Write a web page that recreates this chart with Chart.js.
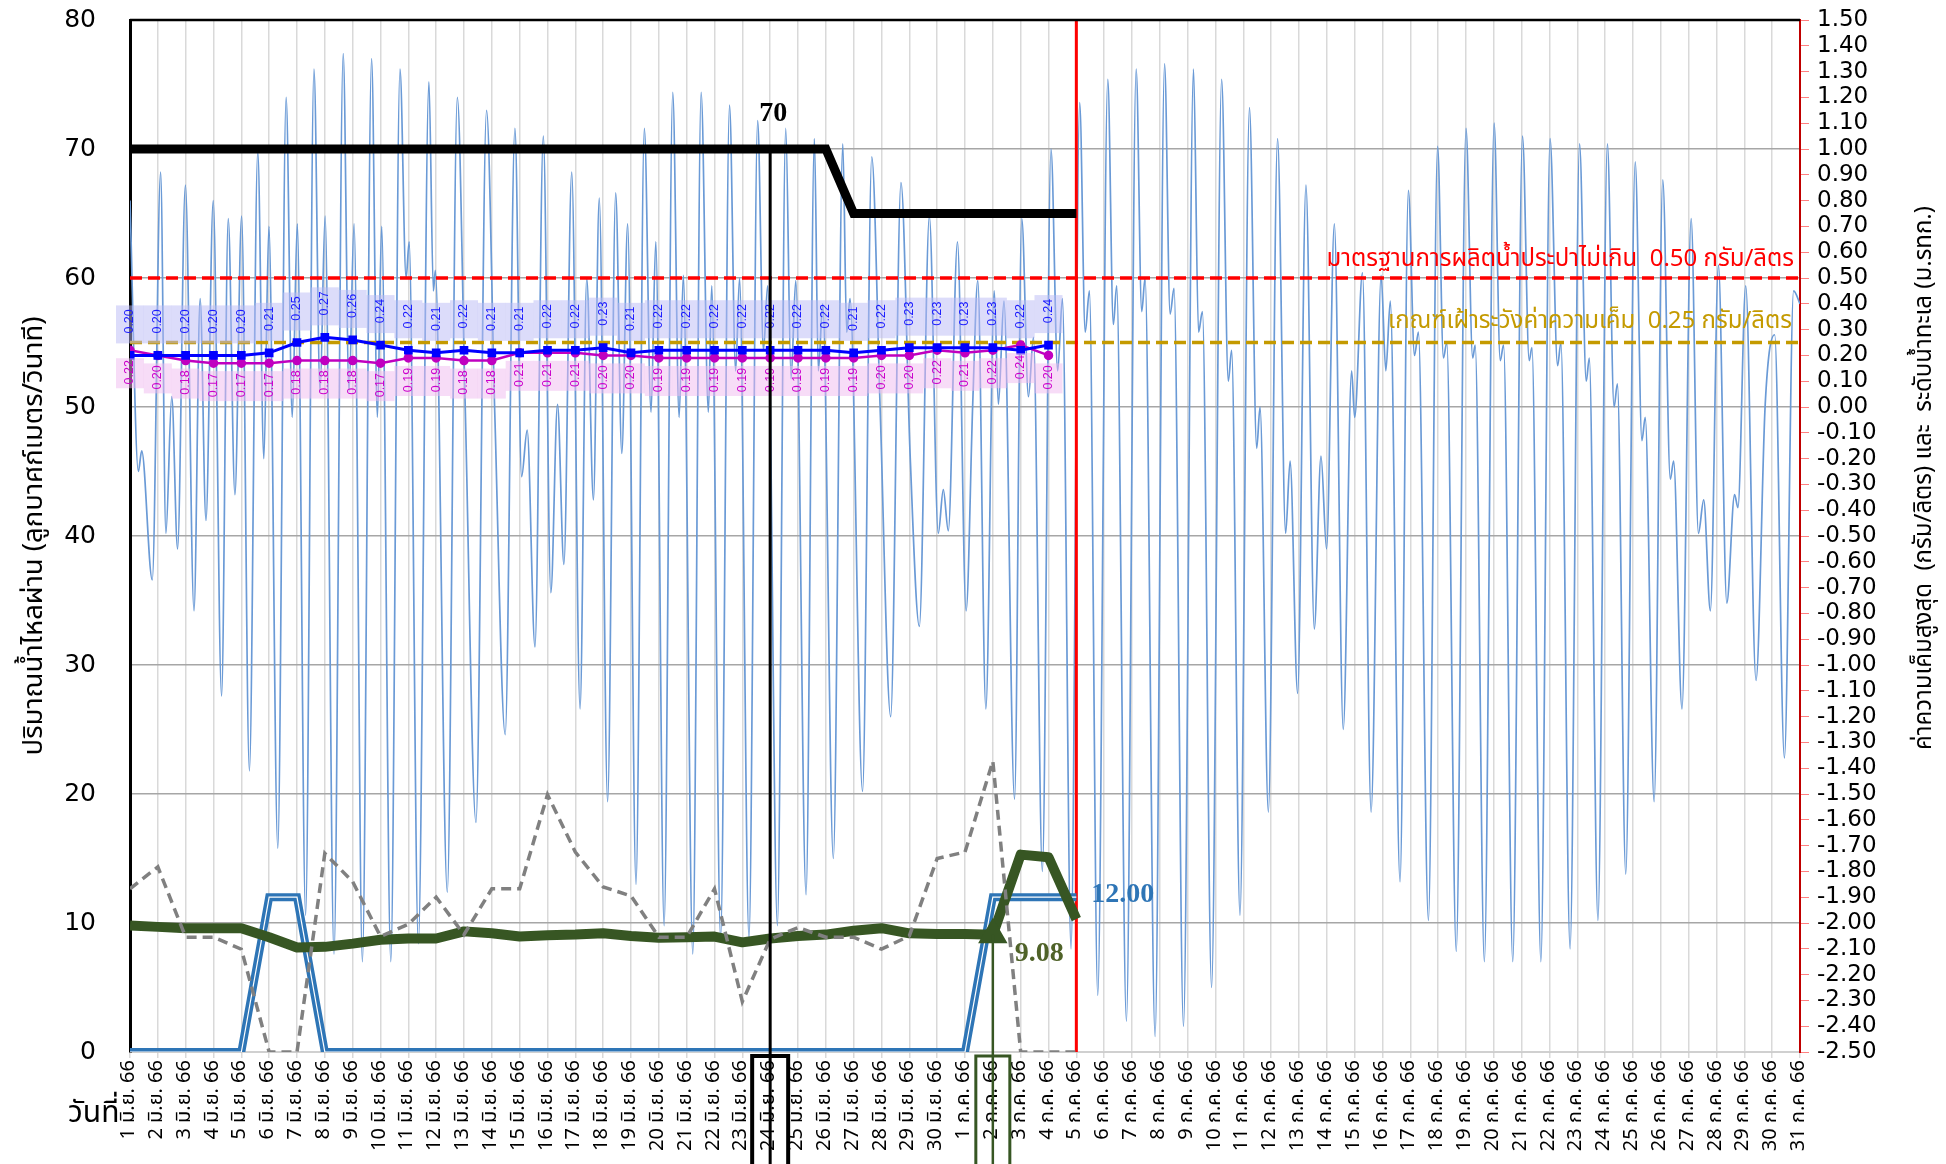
<!DOCTYPE html>
<html>
<head>
<meta charset="utf-8">
<script src="https://cdn.jsdelivr.net/npm/chart.js@4.4.0/dist/chart.umd.min.js"></script>
<style>
  html, body { margin: 0; padding: 0; background: #fff; }
  #wrap { width: 1946px; height: 1164px; }
</style>
</head>
<body>
<div id="wrap"><canvas id="chart" width="1946" height="1164"></canvas></div>
<script>
// วันที่ 1 มิ.ย. 66 - 31 ก.ค. 66
const monthNames = ['มิ.ย.', 'ก.ค.'];
const monthLengths = [30, 31];
const dayLabels = [];
monthLengths.forEach((len, m) => {
    for (let d = 1; d <= len; d++) dayLabels.push(d + ' ' + monthNames[m] + ' 66');
});

// ค่าความเค็มสูงสุด / ต่ำสุด (กรัม/ลิตร) 1 มิ.ย. - 4 ก.ค.
const salinityMax = [0.20, 0.20, 0.20, 0.20, 0.20, 0.21, 0.25, 0.27, 0.26, 0.24,
    0.22, 0.21, 0.22, 0.21, 0.21, 0.22, 0.22, 0.23, 0.21, 0.22,
    0.22, 0.22, 0.22, 0.22, 0.22, 0.22, 0.21, 0.22, 0.23, 0.23,
    0.23, 0.23, 0.22, 0.24];
const salinityMin = [0.22, 0.20, 0.18, 0.17, 0.17, 0.17, 0.18, 0.18, 0.18, 0.17,
    0.19, 0.19, 0.18, 0.18, 0.21, 0.21, 0.21, 0.20, 0.20, 0.19,
    0.19, 0.19, 0.19, 0.19, 0.19, 0.19, 0.19, 0.20, 0.20, 0.22,
    0.21, 0.22, 0.24, 0.20];

// ปริมาณน้ำ (ลบ.ม./วินาที) 1 มิ.ย. - 5 ก.ค.
const flowCriteria = [70, 70, 70, 70, 70, 70, 70, 70, 70, 70,
    70, 70, 70, 70, 70, 70, 70, 70, 70, 70,
    70, 70, 70, 70, 70, 70, 65, 65, 65, 65,
    65, 65, 65, 65, 65];
const flowMain = [9.8, 9.7, 9.6, 9.6, 9.6, 8.9, 8.1, 8.15, 8.4, 8.7,
    8.8, 8.8, 9.35, 9.2, 8.95, 9.05, 9.1, 9.2, 9.0, 8.85,
    8.9, 8.95, 8.5, 8.8, 9.0, 9.1, 9.4, 9.6, 9.2, 9.15,
    9.15, 9.08, 15.3, 15.1, 10.3];
const flowGate = [0, 0, 0, 0, 0, 12, 12, 0, 0, 0,
    0, 0, 0, 0, 0, 0, 0, 0, 0, 0,
    0, 0, 0, 0, 0, 0, 0, 0, 0, 0,
    0, 12, 12, 12, 12];
const flowOther = [12.65, 14.35, 8.9, 8.9, 7.97, 0, 0, 15.4, 13.2, 8.96,
    9.9, 12.0, 9.1, 12.65, 12.65, 19.95, 15.5, 12.8, 12.1, 8.9,
    8.9, 12.65, 3.9, 8.75, 9.65, 8.9, 8.9, 7.97, 9.0, 15.0,
    15.5, 22.55, 0, 0, 0];

// ระดับน้ำทะเล (ม.รทก.) จุดสูงสุด/ต่ำสุดของน้ำขึ้นน้ำลง (วันที่นับจาก 1 มิ.ย. = 0)
const tideDay = [0.00, 0.30, 0.42, 0.80, 1.10, 1.29, 1.50, 1.71, 1.99, 2.30,
    2.52, 2.73, 2.99, 3.29, 3.53, 3.77, 4.01, 4.29, 4.59, 4.81,
    4.99, 5.31, 5.61, 5.83, 6.01, 6.31, 6.61, 6.83, 7.01, 7.33,
    7.66, 7.87, 8.05, 8.35, 8.68, 8.89, 9.04, 9.37, 9.70, 9.92,
    10.03, 10.36, 10.74, 10.90, 10.97, 11.40, 11.76, 12.04, 12.43, 12.81,
    13.11, 13.48, 13.83, 14.07, 14.27, 14.55, 14.85, 15.12, 15.36, 15.59,
    15.87, 16.17, 16.41, 16.65, 16.86, 17.16, 17.45, 17.67, 17.88, 18.18,
    18.48, 18.72, 18.89, 19.19, 19.50, 19.73, 19.88, 20.22, 20.52, 20.78,
    20.90, 21.22, 21.54, 21.76, 21.90, 22.24, 22.55, 22.76, 22.91, 23.26,
    23.56, 23.75, 23.92, 24.29, 24.59, 24.73, 24.89, 25.27, 25.61, 25.75,
    25.87, 26.32, 26.65, 26.95, 27.33, 27.70, 28.03, 28.36, 28.72, 29.04,
    29.22, 29.40, 29.73, 30.04, 30.28, 30.46, 30.75, 31.05, 31.20, 31.40,
    31.78, 32.04, 32.28, 32.46, 32.78, 33.09, 33.33, 33.50, 33.81, 34.12,
    34.32, 34.47, 34.77, 35.13, 35.33, 35.45, 35.80, 36.15, 36.35, 36.47,
    36.83, 37.17, 37.37, 37.51, 37.85, 38.21, 38.39, 38.53, 38.86, 39.22,
    39.46, 39.58, 39.88, 40.22, 40.48, 40.60, 40.90, 41.23, 41.52, 41.68,
    41.95, 42.25, 42.55, 42.79, 42.99, 43.27, 43.59, 43.89, 44.00, 44.28,
    44.59, 44.95, 45.12, 45.28, 45.63, 45.93, 46.15, 46.29, 46.65, 46.98,
    47.19, 47.31, 47.65, 48.00, 48.24, 48.33, 48.66, 49.01, 49.23, 49.35,
    49.68, 50.03, 50.27, 50.37, 50.69, 51.02, 51.29, 51.41, 51.74, 52.08,
    52.32, 52.43, 52.74, 53.08, 53.32, 53.44, 53.74, 54.08, 54.32, 54.44,
    54.76, 55.07, 55.34, 55.46, 55.76, 56.09, 56.35, 56.54, 56.78, 57.07,
    57.37, 57.65, 57.77, 58.05, 58.42, 58.75, 59.09, 59.44, 59.77, 60.00];
const tideLevel = [0.80, -0.25, -0.17, -0.67, 0.91, -0.49, 0.04, -0.55, 0.86, -0.79,
    0.42, -0.44, 0.80, -1.12, 0.73, -0.34, 0.74, -1.41, 0.99, -0.20,
    0.70, -1.71, 1.20, -0.04, 0.71, -1.97, 1.31, 0.06, 0.74, -2.12,
    1.37, 0.06, 0.71, -2.15, 1.35, -0.04, 0.70, -2.15, 1.31, 0.50,
    0.64, -2.08, 1.26, 0.45, 0.53, -1.88, 1.20, 0.02, -1.61, 1.15,
    -0.04, -1.27, 1.08, -0.27, -0.09, -0.93, 1.05, -0.72, 0.01, -0.61,
    0.91, -1.17, 0.50, -0.36, 0.81, -1.53, 0.83, -0.18, 0.71, -1.85,
    1.08, -0.02, 0.64, -2.01, 1.22, -0.04, 0.51, -2.12, 1.22, -0.02,
    0.47, -2.06, 1.17, 0.14, 0.50, -2.06, 1.11, 0.22, 0.47, -2.01,
    1.08, 0.11, 0.49, -1.89, 1.04, 0.14, 0.40, -1.75, 1.02, 0.29,
    0.42, -1.49, 0.97, 0.00, -1.20, 0.87, -0.19, -0.85, 0.74, -0.49,
    -0.32, -0.48, 0.64, -0.79, 0.02, 0.49, -1.17, 0.45, 0.01, 0.41,
    -1.52, 0.73, 0.04, 0.27, -1.80, 1.00, 0.14, 0.42, -2.10, 1.18,
    0.29, 0.45, -2.28, 1.27, 0.32, 0.47, -2.38, 1.31, 0.37, 0.50,
    -2.44, 1.33, 0.36, 0.46, -2.40, 1.31, 0.29, 0.37, -2.25, 1.27,
    0.10, 0.22, -1.97, 1.16, -0.16, 0.00, -1.57, 1.04, -0.49, -0.21,
    -1.11, 0.86, -0.86, -0.19, -0.55, 0.71, -1.25, 0.14, -0.04, 0.52,
    -1.57, 0.51, 0.14, 0.41, -1.84, 0.84, 0.20, 0.29, -1.99, 1.01,
    0.19, 0.25, -2.11, 1.08, 0.19, 0.24, -2.15, 1.10, 0.18, 0.24,
    -2.15, 1.05, 0.18, 0.23, -2.15, 1.04, 0.16, 0.25, -2.10, 1.02,
    0.10, 0.19, -1.99, 1.02, 0.00, 0.09, -1.81, 0.95, -0.13, -0.04,
    -1.53, 0.88, -0.28, -0.21, -1.17, 0.73, -0.49, -0.36, -0.79, 0.55,
    -0.76, -0.34, -0.39, 0.47, -1.06, 0.01, 0.28, -1.36, 0.45, 0.40];

const standardLimit = 0.50;
const watchLimit = 0.25;
const todayIndex = 34;     // 5 ก.ค. 66
const markFlowIndex = 23;  // 24 มิ.ย. 66
const markMainIndex = 31;  // 2 ก.ค. 66

const toXY = arr => arr.map((v, i) => ({ x: i, y: v }));
const thaiFont = '"Noto Sans Thai", "Noto Sans", "DejaVu Sans", sans-serif';

// ไม่ให้ Chart.js เว้นขอบเพิ่มจากป้ายแกน
const noPad = s => { s.paddingTop = 0; s.paddingBottom = 0; s.paddingLeft = 0; s.paddingRight = 0; };

const decorPlugin = {
    id: 'decor',
    afterDatasetsDraw(chart) {
        const { ctx, chartArea, scales } = chart;
        const x = scales.x, yL = scales.y, yR = scales.y2;

        // เส้นกรอบด้านบน
        ctx.save();
        ctx.strokeStyle = '#000';
        ctx.lineWidth = 2.5;
        ctx.beginPath();
        ctx.moveTo(chartArea.left, chartArea.top);
        ctx.lineTo(chartArea.right, chartArea.top);
        ctx.stroke();

        // ป้ายเกณฑ์
        ctx.font = '24px ' + thaiFont;
        ctx.textAlign = 'right';
        ctx.textBaseline = 'bottom';
        ctx.fillStyle = '#ff0000';
        ctx.fillText('มาตรฐานการผลิตน้ำประปาไม่เกิน  0.50 กรัม/ลิตร', chartArea.right - 6, yR.getPixelForValue(standardLimit) - 5);
        ctx.fillStyle = '#c49a00';
        ctx.fillText('เกณฑ์เฝ้าระวังค่าความเค็ม  0.25 กรัม/ลิตร', chartArea.right - 8, yR.getPixelForValue(watchLimit) - 7);

        // ป้ายค่าความเค็ม
        const drawLabels = (idx, values, boxTop, boxH, textDy, color, bg) => {
            const meta = chart.getDatasetMeta(idx);
            meta.data.forEach(pt => {
                ctx.fillStyle = bg;
                ctx.fillRect(pt.x - 14, pt.y + boxTop, 28, boxH);
            });
            meta.data.forEach((pt, i) => {
                ctx.save();
                ctx.translate(pt.x, pt.y + textDy);
                ctx.rotate(-Math.PI / 2);
                ctx.fillStyle = color;
                ctx.font = '12.5px "Liberation Sans Narrow", "Liberation Sans", sans-serif';
                ctx.textAlign = 'center';
                ctx.textBaseline = 'middle';
                ctx.fillText(values[i].toFixed(2), 0, 0);
                ctx.restore();
            });
        };
        drawLabels(0, salinityMax, -50, 38, -34, '#1a1aff', 'rgba(185,185,245,0.5)');
        drawLabels(1, salinityMin, 8, 30, 22, '#cc00cc', 'rgba(240,185,240,0.5)');

        // เส้นชี้วันที่
        const xa = x.getPixelForValue(markFlowIndex);
        ctx.strokeStyle = '#000';
        ctx.lineWidth = 3;
        ctx.beginPath();
        ctx.moveTo(xa, yL.getPixelForValue(flowCriteria[markFlowIndex]));
        ctx.lineTo(xa, chart.height);
        ctx.stroke();
        ctx.lineWidth = 4;
        ctx.strokeRect(xa - 18, chartArea.bottom + 4, 36, chart.height);

        const xb = x.getPixelForValue(markMainIndex);
        ctx.strokeStyle = '#375623';
        ctx.lineWidth = 2.5;
        ctx.beginPath();
        ctx.moveTo(xb, yL.getPixelForValue(flowMain[markMainIndex]));
        ctx.lineTo(xb, chart.height);
        ctx.stroke();
        ctx.lineWidth = 3;
        ctx.strokeRect(xb - 17, chartArea.bottom + 4, 34, chart.height);

        // ป้ายค่า
        ctx.font = 'bold 28px "Liberation Serif", serif';
        ctx.textBaseline = 'alphabetic';
        ctx.textAlign = 'center';
        ctx.fillStyle = '#000';
        ctx.fillText(String(flowCriteria[markFlowIndex]), xa + 3, yL.getPixelForValue(flowCriteria[markFlowIndex]) - 28);
        ctx.textAlign = 'left';
        ctx.fillStyle = '#2e75b6';
        ctx.fillText(flowGate[todayIndex].toFixed(2), x.getPixelForValue(todayIndex) + 15, yL.getPixelForValue(flowGate[todayIndex]) + 5);
        ctx.fillStyle = '#4f6228';
        ctx.fillText(flowMain[markMainIndex].toFixed(2), xb + 22, yL.getPixelForValue(flowMain[markMainIndex]) + 26);
        ctx.restore();
    },
    afterDraw(chart) {
        const { ctx } = chart;
        ctx.save();
        ctx.fillStyle = '#000';
        ctx.textAlign = 'center';
        ctx.textBaseline = 'middle';
        ctx.font = '27.5px ' + thaiFont;
        ctx.translate(36, 536);
        ctx.rotate(-Math.PI / 2);
        ctx.fillText('ปริมาณน้ำไหลผ่าน (ลูกบาศก์เมตร/วินาที)', 0, 0);
        ctx.restore();

        ctx.save();
        ctx.fillStyle = '#000';
        ctx.textAlign = 'center';
        ctx.textBaseline = 'middle';
        ctx.font = '24px ' + thaiFont;
        ctx.translate(1926, 478);
        ctx.rotate(-Math.PI / 2);
        ctx.fillText('ค่าความเค็มสูงสุด  (กรัม/ลิตร) และ  ระดับน้ำทะเล (ม.รทก.)', 0, 0);
        ctx.restore();

        ctx.save();
        ctx.fillStyle = '#000';
        ctx.font = '30px ' + thaiFont;
        ctx.textBaseline = 'alphabetic';
        ctx.fillText('วันที่', 68, 1122);
        ctx.restore();
    }
};

new Chart(document.getElementById('chart'), {
    type: 'line',
    data: {
        datasets: [
            {
                label: 'ค่าความเค็มสูงสุด',
                data: toXY(salinityMax),
                yAxisID: 'y2',
                borderColor: '#0000ff',
                backgroundColor: '#0000ff',
                borderWidth: 3,
                pointStyle: 'rect',
                pointRadius: 4,
            },
            {
                label: 'ค่าความเค็มต่ำสุด',
                data: toXY(salinityMin),
                yAxisID: 'y2',
                borderColor: '#c000c0',
                backgroundColor: '#c000c0',
                borderWidth: 2.5,
                pointStyle: 'circle',
                pointRadius: 3.5,
            },
            {
                label: 'ปริมาณน้ำอื่น',
                data: toXY(flowOther),
                yAxisID: 'y',
                borderColor: '#808080',
                borderWidth: 3.5,
                borderDash: [10, 6],
                pointRadius: 0,
            },
            {
                label: 'ปริมาณน้ำไหลผ่าน',
                data: toXY(flowMain),
                yAxisID: 'y',
                borderColor: '#375623',
                backgroundColor: '#375623',
                borderWidth: 10,
                pointStyle: 'triangle',
                pointRadius: ctx => ctx.dataIndex === markMainIndex ? 7 : 0,
                borderJoinStyle: 'round',
            },
            {
                label: 'ประตูระบายน้ำ (เส้นใน)',
                data: toXY(flowGate),
                yAxisID: 'y',
                borderColor: '#ffffff',
                borderWidth: 1.2,
                pointRadius: 0,
            },
            {
                label: 'ประตูระบายน้ำ',
                data: toXY(flowGate),
                yAxisID: 'y',
                borderColor: '#2e75b6',
                borderWidth: 8,
                pointRadius: 0,
            },
            {
                label: 'เกณฑ์ปริมาณน้ำ',
                data: toXY(flowCriteria),
                yAxisID: 'y',
                borderColor: '#000000',
                borderWidth: 9,
                pointRadius: 0,
            },
            {
                label: 'วันนี้',
                data: [{ x: todayIndex, y: -2.5 }, { x: todayIndex, y: 1.5 }],
                yAxisID: 'y2',
                borderColor: '#ff0000',
                borderWidth: 3,
                pointRadius: 0,
            },
            {
                label: 'มาตรฐาน',
                data: [{ x: 0, y: standardLimit }, { x: 60, y: standardLimit }],
                yAxisID: 'y2',
                borderColor: '#ff0000',
                borderWidth: 3.5,
                borderDash: [12, 6],
                pointRadius: 0,
            },
            {
                label: 'เฝ้าระวัง',
                data: [{ x: 0, y: watchLimit }, { x: 60, y: watchLimit }],
                yAxisID: 'y2',
                borderColor: '#c49a00',
                borderWidth: 3.5,
                borderDash: [12, 6],
                pointRadius: 0,
            },
            {
                label: 'ระดับน้ำทะเล',
                data: tideDay.map((t, i) => ({ x: t, y: tideLevel[i] })),
                yAxisID: 'y2',
                borderColor: '#6a9ad6',
                borderWidth: 1.7,
                pointRadius: 0,
                cubicInterpolationMode: 'monotone',
            },
        ]
    },
    options: {
        responsive: false,
        animation: false,
        devicePixelRatio: 1,
        layout: { padding: { top: 20, left: 0, right: 0, bottom: 0 } },
        plugins: {
            legend: { display: false },
            tooltip: { enabled: false },
        },
        scales: {
            x: {
                type: 'linear',
                min: 0,
                max: 60,
                afterFit: s => { s.height = 112; noPad(s); },
                ticks: {
                    stepSize: 1,
                    autoSkip: false,
                    maxRotation: 90,
                    minRotation: 90,
                    padding: 2,
                    color: '#000',
                    font: { size: 20, family: thaiFont },
                    callback: v => dayLabels[Math.round(v)],
                },
                grid: { color: '#d9d9d9', lineWidth: 1.5, tickLength: 6 },
                border: { color: '#d0d0d0', width: 1.5 },
            },
            y: {
                position: 'left',
                min: 0,
                max: 80,
                afterFit: s => { s.width = 130; noPad(s); },
                ticks: {
                    stepSize: 10,
                    padding: 34,
                    color: '#000',
                    font: { size: 25, family: '"DejaVu Sans", sans-serif' },
                },
                grid: { color: '#a6a6a6', lineWidth: 1.5, drawTicks: false },
                border: { color: '#000', width: 3 },
            },
            y2: {
                position: 'right',
                min: -2.5,
                max: 1.5,
                afterFit: s => { s.width = 146; noPad(s); },
                ticks: {
                    stepSize: 0.1,
                    autoSkip: false,
                    padding: 8,
                    color: '#000',
                    font: { size: 23, family: '"DejaVu Sans", sans-serif' },
                    callback: v => v.toFixed(2),
                },
                grid: { drawOnChartArea: false, color: '#ff8080', tickLength: 9 },
                border: { color: '#c00000', width: 2 },
            },
        },
    },
    plugins: [decorPlugin],
});
</script>
</body>
</html>
